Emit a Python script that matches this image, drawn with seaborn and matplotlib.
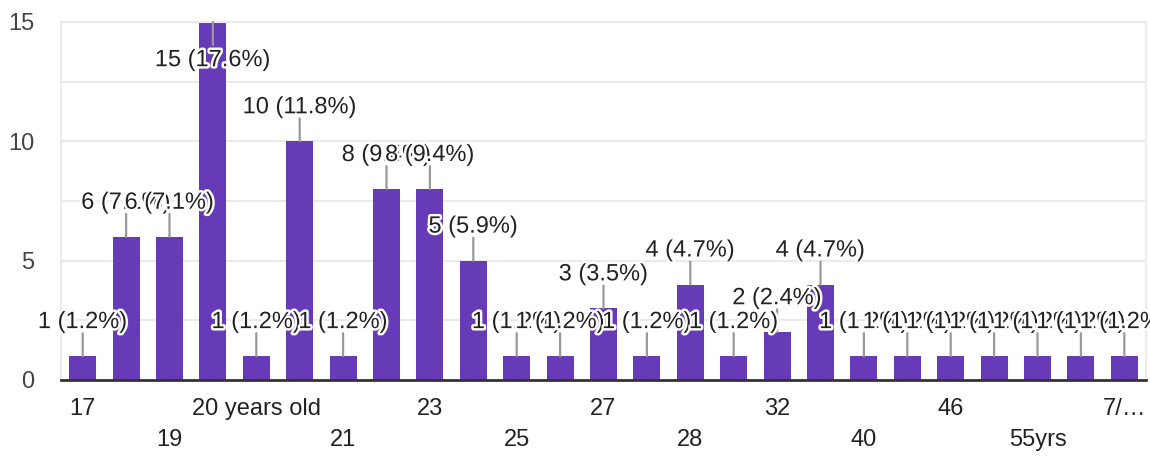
import matplotlib
matplotlib.use("Agg")
import matplotlib.pyplot as plt
import matplotlib.patheffects as pe
import seaborn as sns

# age answers (category order as shown on the axis)
ages = ["17", "18", "19", "20", "20 years old", "20yrs", "21", "22", "23", "24",
        "25", "26", "27", "27 years", "28", "30", "32", "35", "40", "42",
        "46", "50", "55yrs", "60", "7/…"]
counts = [1, 6, 6, 15, 1, 10, 1, 8, 8, 5,
          1, 1, 3, 1, 4, 1, 2, 4, 1, 1,
          1, 1, 1, 1, 1]
y_ticks = [0, 5, 10, 15]
y_grid = [0, 2.5, 5, 7.5, 10, 12.5, 15]

BAR = "#673ab7"
total = sum(counts)

sns.set_style("white")
plt.rcParams["font.family"] = ["Liberation Sans", "DejaVu Sans"]

fig = plt.figure(figsize=(11.5, 4.58), dpi=100)
ax = fig.add_axes([61 / 1150, 78 / 458, 1085 / 1150, 358 / 458])

sns.barplot(x=ages, y=counts, order=ages, color=BAR, saturation=1,
            width=0.62, ax=ax, zorder=2)
for p in ax.patches:
    p.set_edgecolor("none")

ax.set_xlim(-0.5, len(ages) - 0.5)
ax.set_ylim(0, 15)

# gridlines every 2.5, labels every 5
for g in y_grid:
    ax.axhline(g, color="#ebebeb", lw=1.5, zorder=0)
ax.set_yticks(y_ticks)
ax.set_yticklabels([str(t) for t in y_ticks])
ax.tick_params(axis="y", length=0, pad=19, labelsize=17, labelcolor="#444444")

# x labels: every other category, alternating two rows
row1 = list(range(0, len(ages), 4))
row2 = list(range(2, len(ages), 4))
ax.set_xticks(row1)
ax.set_xticklabels([ages[i] for i in row1])
ax.set_xticks(row2, minor=True)
ax.set_xticklabels([ages[i] for i in row2], minor=True)
ax.tick_params(axis="x", which="major", length=0, pad=13, labelsize=17,
               labelcolor="#222222")
ax.tick_params(axis="x", which="minor", length=0, pad=35, labelsize=17,
               labelcolor="#222222")
ax.set_xlabel("")
ax.set_ylabel("")

for s in ["left", "right", "top"]:
    ax.spines[s].set_color("#ebebeb")
    ax.spines[s].set_linewidth(1.5)
ax.spines["bottom"].set_color("#333333")
ax.spines["bottom"].set_linewidth(2)
ax.spines["bottom"].set_zorder(5)

# annotations with leader lines
px_per_unit = 358 / 15
halo = [pe.withStroke(linewidth=3.5, foreground="white")]
for i, v in enumerate(counts):
    label = f"{v} ({v / total * 100:.1f}%)"
    top_px = v * px_per_unit
    if top_px + 46 > 358:
        line_off, text_off = -16.5, -27.5
    else:
        line_off, text_off = 16.5, 24.5
    ax.annotate("", xy=(i, v), xytext=(0, line_off), textcoords="offset points",
                arrowprops=dict(arrowstyle="-", color="#999999", lw=1.6,
                                shrinkA=0, shrinkB=0),
                annotation_clip=False, zorder=3)
    ax.annotate(label, xy=(i, v), xytext=(0, text_off), textcoords="offset points",
                ha="center", va="center", fontsize=17, color="#222222",
                path_effects=halo, annotation_clip=False, zorder=4)

fig.savefig("out.png", dpi=100)
